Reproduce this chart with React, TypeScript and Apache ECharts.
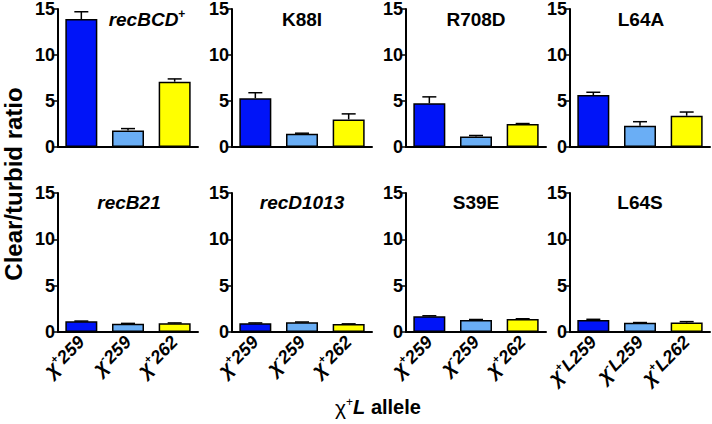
import React, { useEffect, useRef } from "react";
import * as echarts from "echarts";

// ---- data ----
const panelTitles = ["recBCD+", "K88I", "R708D", "L64A", "recB21", "recD1013", "S39E", "L64S"];
const panelItalic = [true, false, false, false, true, true, false, false];

const allelesChi = ["χ+259", "χ-259", "χ+262"];
const allelesChiL = ["χ+L259", "χ-L259", "χ+L262"];

const recBCDValues = [13.9, 1.8, 7.1];
const recBCDErrors = [0.8, 0.2, 0.3];
const k88iValues = [5.3, 1.45, 3.0];
const k88iErrors = [0.6, 0.05, 0.6];
const r708dValues = [4.75, 1.15, 2.5];
const r708dErrors = [0.7, 0.1, 0.05];
const l64aValues = [5.65, 2.3, 3.4];
const l64aErrors = [0.3, 0.45, 0.4];
const recB21Values = [1.15, 0.9, 0.95];
const recB21Errors = [0.03, 0.03, 0.03];
const recD1013Values = [0.95, 1.05, 0.85];
const recD1013Errors = [0.03, 0.03, 0.03];
const s39eValues = [1.7, 1.3, 1.4];
const s39eErrors = [0.05, 0.05, 0.03];
const l64sValues = [1.3, 1.0, 1.02];
const l64sErrors = [0.07, 0.02, 0.1];

const panelValues = [recBCDValues, k88iValues, r708dValues, l64aValues, recB21Values, recD1013Values, s39eValues, l64sValues];
const panelErrors = [recBCDErrors, k88iErrors, r708dErrors, l64aErrors, recB21Errors, recD1013Errors, s39eErrors, l64sErrors];
const panelCategories = [allelesChi, allelesChi, allelesChi, allelesChiL, allelesChi, allelesChi, allelesChi, allelesChiL];

const yTicks = [0, 5, 10, 15];
const barColors = ["#0014f8", "#6aaef5", "#ffff00"];

const yAxisTitle = "Clear/turbid ratio";

// ---- layout ----
const W = 712;
const H = 424;
const gridLefts = [58, 232, 406, 570];
const gridWidth = 140;
const rowTops = [9, 193];
const rowHeights = [138, 139];
const titleCenters = [147, 302, 476, 641, 129, 302, 476, 640];
const titleYs = [19, 202];
const FONT = "'Liberation Sans', Arial, Helvetica, sans-serif";

function titleRich(name: string, italic: boolean): string {
  if (name.endsWith("+")) {
    return `{t|${name.slice(0, -1)}}{s|+}`;
  }
  return italic ? `{t|${name}}` : `{u|${name}}`;
}

function labelFormatter(v: string): string {
  const sign = v.charAt(1);
  const rest = v.slice(2);
  return `{c|${v.charAt(0)}}{s|${sign}}{n|${rest}}`;
}

export default function App() {
  const ref = useRef<HTMLDivElement>(null);
  useEffect(() => {
    if (!ref.current) return;
    const chart = echarts.init(ref.current, undefined, { renderer: "svg", width: W, height: H });
    const grids: any[] = [];
    const xAxes: any[] = [];
    const yAxes: any[] = [];
    const series: any[] = [];
    const graphics: any[] = [];
    for (let p = 0; p < 8; p++) {
      const row = p < 4 ? 0 : 1;
      const col = p % 4;
      grids.push({ left: gridLefts[col], top: rowTops[row], width: gridWidth, height: rowHeights[row] });
      xAxes.push({
        type: "category",
        gridIndex: p,
        data: panelCategories[p],
        axisLine: { lineStyle: { color: "#000", width: 2 } },
        axisTick: { alignWithLabel: true, length: 5, lineStyle: { color: "#000", width: 1.5 } },
        axisLabel: row === 1
          ? {
              show: true,
              rotate: 45,
              margin: 7,
              interval: 0,
              formatter: labelFormatter,
              rich: {
                c: { fontFamily: FONT, fontSize: 20, fontWeight: "bold", fontStyle: "italic", color: "#000" },
                s: { fontFamily: FONT, fontSize: 11, fontWeight: "bold", color: "#000", padding: [0, 0, 10, 0] },
                n: { fontFamily: FONT, fontSize: 18, fontWeight: "bold", fontStyle: "italic", color: "#000" },
              },
            }
          : { show: false },
      });
      yAxes.push({
        type: "value",
        gridIndex: p,
        min: 0,
        max: 15,
        interval: 5,
        axisLine: { show: true, lineStyle: { color: "#000", width: 2 } },
        axisTick: { show: true, length: 5, lineStyle: { color: "#000", width: 1.5 } },
        splitLine: { show: false },
        axisLabel: {
          margin: 3,
          fontFamily: FONT,
          fontSize: 18,
          fontWeight: "bold",
          color: "#000",
          formatter: (v: number) => (yTicks.includes(v) ? String(v) : ""),
        },
      });
      series.push({
        type: "bar",
        xAxisIndex: p,
        yAxisIndex: p,
        barWidth: 32,
        data: panelValues[p].map((v, i) => ({
          value: v,
          itemStyle: { color: barColors[i], borderColor: "#000", borderWidth: 1.5 },
        })),
      });
      series.push({
        type: "custom",
        xAxisIndex: p,
        yAxisIndex: p,
        z: 5,
        data: panelValues[p].map((v, i) => [i, v, panelErrors[p][i]]),
        renderItem: (params: any, api: any) => {
          const x = api.value(0);
          const v = api.value(1);
          const e = api.value(2);
          const base = api.coord([x, v]);
          const top = api.coord([x, v + e]);
          const half = 7;
          return {
            type: "group",
            children: [
              { type: "line", shape: { x1: base[0], y1: base[1], x2: top[0], y2: top[1] }, style: { stroke: "#000", lineWidth: 1.5 } },
              { type: "line", shape: { x1: top[0] - half, y1: top[1], x2: top[0] + half, y2: top[1] }, style: { stroke: "#000", lineWidth: 1.5 } },
            ],
          };
        },
      });
      graphics.push({
        type: "text",
        x: titleCenters[p],
        y: titleYs[row],
        style: {
          text: titleRich(panelTitles[p], panelItalic[p]),
          align: "center",
          verticalAlign: "middle",
          rich: {
            t: { fontFamily: FONT, fontSize: 19, fontWeight: "bold", fontStyle: "italic", fill: "#000", color: "#000" },
            u: { fontFamily: FONT, fontSize: 19, fontWeight: "bold", fill: "#000", color: "#000" },
            s: { fontFamily: FONT, fontSize: 12, fontWeight: "bold", fill: "#000", color: "#000", padding: [0, 0, 10, 0] },
          },
        },
      });
    }
    graphics.push({
      type: "text",
      x: 13,
      y: 184,
      rotation: Math.PI / 2,
      style: {
        text: yAxisTitle,
        align: "center",
        verticalAlign: "middle",
        font: `bold 24px ${FONT}`,
        fill: "#000",
      },
    });
    graphics.push({
      type: "text",
      x: 378,
      y: 407,
      style: {
        text: "{c|χ}{s|+}{l|L}{a| allele}",
        align: "center",
        verticalAlign: "middle",
        rich: {
          c: { fontFamily: FONT, fontSize: 21, fill: "#000", color: "#000" },
          s: { fontFamily: FONT, fontSize: 12, fill: "#000", color: "#000", padding: [0, 0, 10, 0] },
          l: { fontFamily: FONT, fontSize: 20, fontWeight: "bold", fontStyle: "italic", fill: "#000", color: "#000" },
          a: { fontFamily: FONT, fontSize: 20, fontWeight: "bold", fill: "#000", color: "#000" },
        },
      },
    });
    chart.setOption({
      animation: false,
      backgroundColor: "#fff",
      grid: grids,
      xAxis: xAxes,
      yAxis: yAxes,
      series,
      graphic: graphics,
    });
    return () => chart.dispose();
  }, []);
  return <div ref={ref} style={{ position: "absolute", left: 0, top: 0, width: W, height: H }} />;
}
